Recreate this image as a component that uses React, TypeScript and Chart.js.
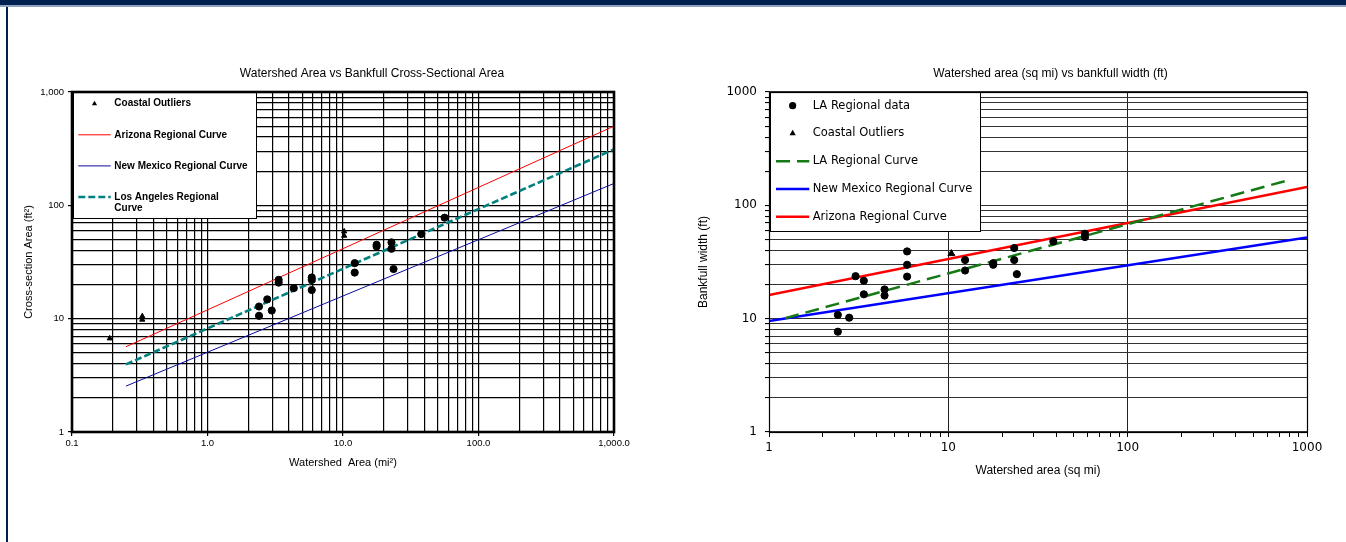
import React, { useEffect, useRef } from "react";
import { Chart, registerables } from "chart.js";
Chart.register(...registerables);

// ---------- Left chart: Watershed Area vs Bankfull Cross-Sectional Area ----------
const leftLAx = [2.4, 2.4, 2.76, 2.98, 3.35, 3.35, 4.33, 5.88, 5.88, 5.88, 12.2, 12.2, 17.7, 17.7, 22.8, 22.8, 23.6, 37.8, 56.2];
const leftLAy = [12.8, 10.6, 14.8, 11.8, 22.0, 20.8, 18.6, 23.1, 22.0, 17.9, 30.9, 25.5, 44.9, 43.4, 47.1, 41.4, 27.4, 55.8, 77.8];
const leftCoastalX = [0.19, 0.33, 0.33, 10.2, 10.2];
const leftCoastalY = [6.7, 10.5, 9.8, 58.9, 53.9];
const leftCurveX = [0.25, 1000];
const leftArizonaY = [5.65, 500];
const leftNewMexicoY = [2.54, 156];
const leftLACurveY = [3.95, 312];
const leftXTickLabels = ["0.1", "1.0", "10.0", "100.0", "1,000.0"];
const leftYTickLabels = ["1", "10", "100", "1,000"];
const leftLabels = ["LA data", "Coastal Outliers", "Arizona Regional Curve", "New Mexico Regional Curve", "Los Angeles Regional\nCurve"];

// ---------- Right chart: Watershed area vs bankfull width ----------
const rightLAx = [2.42, 2.42, 2.8, 3.04, 3.38, 3.38, 4.41, 4.41, 5.89, 5.89, 5.89, 12.4, 12.4, 17.8, 17.8, 23.3, 23.3, 24.1, 38.5, 57.8, 57.8];
const rightLAy = [10.8, 7.67, 10.2, 23.7, 21.6, 16.4, 18.1, 16.0, 39.2, 29.9, 23.5, 32.9, 26.6, 30.9, 29.9, 42.0, 32.9, 24.7, 48.0, 56.2, 52.5];
const rightCoastalX = [10.4];
const rightCoastalY = [37.5];
const rightLACurveX = [1.23, 812];
const rightLACurveY = [10.1, 169];
const rightCurveX = [1, 1000];
const rightNewMexicoY = [9.55, 52.1];
const rightArizonaY = [16.2, 145.5];
const rightXTickLabels = ["1", "10", "100", "1000"];
const rightYTickLabels = ["1", "10", "100", "1000"];
const rightLabels = ["LA Regional data", "Coastal Outliers", "LA Regional Curve", "New Mexico Regional Curve", "Arizona Regional Curve"];

const SANS = "'Liberation Sans', Arial, sans-serif";
const VERD = "'DejaVu Sans', Verdana, sans-serif";

function pts(xs: number[], ys: number[]) {
  return xs.map((x, i) => ({ x, y: ys[i] }));
}

function makeLogTicks(min: number, max: number) {
  const ticks: { value: number; major: boolean }[] = [];
  const d0 = Math.round(Math.log10(min));
  const d1 = Math.round(Math.log10(max));
  for (let d = d0; d <= d1; d++) {
    for (let m = 1; m <= 9; m++) {
      const v = parseFloat((m * Math.pow(10, d)).toPrecision(10));
      if (v > max * 1.000001) break;
      ticks.push({ value: v, major: m === 1 });
    }
  }
  return ticks;
}

function labelFor(labels: string[], min: number) {
  return (value: any, index: number, ticks: any[]) => {
    const t = ticks[index];
    if (!t || !t.major) return "";
    const k = Math.round(Math.log10(Number(value)) - Math.log10(min));
    return labels[k] ?? "";
  };
}

function drawMarker(ctx: CanvasRenderingContext2D, style: string, x: number, y: number, r: number) {
  ctx.beginPath();
  if (style === "triangle") {
    let rad = 0;
    const step = (2 * Math.PI) / 3;
    ctx.moveTo(x + Math.sin(rad) * r, y - Math.cos(rad) * r);
    rad += step;
    ctx.lineTo(x + Math.sin(rad) * r, y - Math.cos(rad) * r);
    rad += step;
    ctx.lineTo(x + Math.sin(rad) * r, y - Math.cos(rad) * r);
    ctx.closePath();
  } else {
    ctx.arc(x, y, r, 0, Math.PI * 2);
  }
  ctx.fill();
}

const overlayPlugin = {
  id: "overlay",
  afterDraw(chart: any, _args: any, opts: any) {
    const ctx: CanvasRenderingContext2D = chart.ctx;
    const ca = chart.chartArea;
    ctx.save();
    // legend box
    const L = opts.legend;
    ctx.fillStyle = "#fff";
    ctx.fillRect(L.x, L.y, L.w, L.h);
    ctx.strokeStyle = "#000";
    ctx.lineWidth = 1;
    ctx.strokeRect(L.x + 0.5, L.y + 0.5, L.w, L.h);
    ctx.font = L.font;
    ctx.textAlign = "left";
    ctx.textBaseline = "middle";
    const items: number[] = L.items;
    items.forEach((di, k) => {
      const ds = chart.data.datasets[di];
      const y = L.rowY0 + k * L.rowGap;
      if (ds.showLine) {
        ctx.save();
        ctx.strokeStyle = ds.borderColor;
        ctx.lineWidth = ds.borderWidth;
        ctx.setLineDash(ds.borderDash || []);
        ctx.beginPath();
        ctx.moveTo(L.lineX0, y);
        ctx.lineTo(L.lineX1, y);
        ctx.stroke();
        ctx.restore();
      } else {
        ctx.fillStyle = "#000";
        drawMarker(ctx, ds.pointStyle, (L.lineX0 + L.lineX1) / 2, y, L.markerR);
      }
      ctx.fillStyle = "#000";
      String(ds.label)
        .split("\n")
        .forEach((line: string, j: number) => {
          ctx.fillText(line, L.textX, y + j * L.lineH);
        });
    });
    // plot frame
    ctx.strokeStyle = "#000";
    ctx.lineWidth = opts.frameWidth;
    ctx.setLineDash([]);
    ctx.strokeRect(ca.left + opts.frameOff, ca.top + opts.frameOff, ca.right - ca.left, ca.bottom - ca.top);
    // title
    ctx.fillStyle = "#000";
    ctx.font = opts.titleFont;
    ctx.textAlign = "center";
    ctx.textBaseline = "middle";
    ctx.fillText(opts.title, opts.titleX, opts.titleY);
    ctx.restore();
  },
};

function leftConfig(): any {
  return {
    type: "scatter",
    data: {
      datasets: [
        { label: leftLabels[0], data: pts(leftLAx, leftLAy), pointStyle: "circle", pointRadius: 3.6, backgroundColor: "#000", borderColor: "#000", borderWidth: 1, showLine: false },
        { label: leftLabels[1], data: pts(leftCoastalX, leftCoastalY), pointStyle: "triangle", pointRadius: 3, backgroundColor: "#000", borderColor: "#000", borderWidth: 1, showLine: false },
        { label: leftLabels[2], data: pts(leftCurveX, leftArizonaY), showLine: true, borderColor: "#FF0000", borderWidth: 1, pointRadius: 0 },
        { label: leftLabels[3], data: pts(leftCurveX, leftNewMexicoY), showLine: true, borderColor: "#0A0A9E", borderWidth: 1, pointRadius: 0 },
        { label: leftLabels[4], data: pts(leftCurveX, leftLACurveY), showLine: true, borderColor: "#008080", borderWidth: 2.6, borderDash: [7, 3], pointRadius: 0 },
      ],
    },
    options: {
      animation: false,
      responsive: false,
      devicePixelRatio: 1,
      events: [],
      layout: { padding: { left: 0, right: 66, top: 92, bottom: 70 } },
      scales: {
        x: {
          type: "logarithmic",
          min: 0.1,
          max: 1000,
          afterBuildTicks: (s: any) => { s.ticks = makeLogTicks(0.1, 1000); },
          afterFit: (s: any) => { s.height = 40; },
          grid: { color: "#000", lineWidth: 1.2, tickLength: 4, tickColor: (c: any) => (c.tick && c.tick.major ? "#000" : "rgba(0,0,0,0)") },
          border: { display: false },
          ticks: { autoSkip: false, maxRotation: 0, minRotation: 0, padding: 2, color: "#000", font: { family: SANS, size: 9.5 }, callback: labelFor(leftXTickLabels, 0.1) },
          title: { display: true, text: "Watershed  Area (mi²)", color: "#000", font: { family: SANS, size: 11 }, padding: { top: 0, bottom: 2 } },
        },
        y: {
          type: "logarithmic",
          min: 1,
          max: 1000,
          afterBuildTicks: (s: any) => { s.ticks = makeLogTicks(1, 1000); },
          afterFit: (s: any) => { s.width = 72; },
          grid: { color: "#000", lineWidth: 1.2, tickLength: 4, tickColor: (c: any) => (c.tick && c.tick.major ? "#000" : "rgba(0,0,0,0)") },
          border: { display: false },
          ticks: { autoSkip: false, padding: 4, color: "#000", font: { family: SANS, size: 9.5 }, callback: labelFor(leftYTickLabels, 1) },
          title: { display: true, text: "Cross-section Area (ft²)", color: "#000", font: { family: SANS, size: 11 }, padding: { top: 22, bottom: 0 } },
        },
      },
      plugins: {
        legend: { display: false },
        tooltip: { enabled: false },
        title: { display: false },
        overlay: {
          title: "Watershed Area vs Bankfull Cross-Sectional Area",
          titleX: 372,
          titleY: 73.5,
          titleFont: `12px ${SANS}`,
          frameWidth: 2.6,
          frameOff: 0,
          legend: {
            x: 73, y: 92, w: 183, h: 126,
            items: [1, 2, 3, 4],
            rowY0: 103.7, rowGap: 31.1, lineH: 11.7,
            lineX0: 78.3, lineX1: 110.7, textX: 114.3, markerR: 3,
            font: `bold 10px ${SANS}`,
          },
        },
      },
    },
    plugins: [overlayPlugin],
  };
}

function rightConfig(): any {
  return {
    type: "scatter",
    data: {
      datasets: [
        { label: rightLabels[0], data: pts(rightLAx, rightLAy), pointStyle: "circle", pointRadius: 3.6, backgroundColor: "#000", borderColor: "#000", borderWidth: 1, showLine: false },
        { label: rightLabels[1], data: pts(rightCoastalX, rightCoastalY), pointStyle: "triangle", pointRadius: 4, backgroundColor: "#000", borderColor: "#000", borderWidth: 1, showLine: false },
        { label: rightLabels[2], data: pts(rightLACurveX, rightLACurveY), showLine: true, borderColor: "#157A15", borderWidth: 2.5, borderDash: [14, 7], pointRadius: 0 },
        { label: rightLabels[3], data: pts(rightCurveX, rightNewMexicoY), showLine: true, borderColor: "#0000FF", borderWidth: 2.5, pointRadius: 0 },
        { label: rightLabels[4], data: pts(rightCurveX, rightArizonaY), showLine: true, borderColor: "#FF0000", borderWidth: 2.5, pointRadius: 0 },
      ],
    },
    options: {
      animation: false,
      responsive: false,
      devicePixelRatio: 1,
      events: [],
      layout: { padding: { left: 0, right: 39, top: 92, bottom: 64 } },
      scales: {
        x: {
          type: "logarithmic",
          min: 1,
          max: 1000,
          afterBuildTicks: (s: any) => { s.ticks = makeLogTicks(1, 1000); },
          afterFit: (s: any) => { s.height = 46; },
          grid: { color: (c: any) => (c.tick && c.tick.major ? "#222" : "rgba(0,0,0,0)"), lineWidth: 1, tickLength: 5, tickColor: "#000" },
          border: { display: false },
          ticks: { autoSkip: false, maxRotation: 0, minRotation: 0, padding: 4, color: "#000", font: { family: VERD, size: 12 }, callback: labelFor(rightXTickLabels, 1) },
          title: { display: true, text: "Watershed area (sq mi)", color: "#000", font: { family: SANS, size: 12 }, padding: { top: 0, bottom: 0.5 } },
        },
        y: {
          type: "logarithmic",
          min: 1,
          max: 1000,
          afterBuildTicks: (s: any) => { s.ticks = makeLogTicks(1, 1000); },
          afterFit: (s: any) => { s.width = 89; },
          grid: { color: "#333", lineWidth: 1.1, tickLength: 4, tickColor: "#000" },
          border: { display: false },
          ticks: { autoSkip: false, padding: 8, color: "#000", font: { family: VERD, size: 12 }, callback: labelFor(rightYTickLabels, 1) },
          title: { display: true, text: "Bankfull width (ft)", color: "#000", font: { family: SANS, size: 12 }, padding: { top: 16.8, bottom: 0 } },
        },
      },
      plugins: {
        legend: { display: false },
        tooltip: { enabled: false },
        title: { display: false },
        overlay: {
          title: "Watershed area (sq mi) vs bankfull width (ft)",
          titleX: 370.5,
          titleY: 73.5,
          titleFont: `12px ${SANS}`,
          frameWidth: 1.2,
          frameOff: 0.5,
          legend: {
            x: 90, y: 92, w: 210, h: 139,
            items: [0, 1, 2, 3, 4],
            rowY0: 105.7, rowGap: 27.75, lineH: 13,
            lineX0: 96, lineX1: 129.3, textX: 132.7, markerR: 3.6,
            font: `11.5px ${VERD}`,
          },
        },
      },
    },
    plugins: [overlayPlugin],
  };
}

export default function App() {
  const leftRef = useRef<HTMLCanvasElement>(null);
  const rightRef = useRef<HTMLCanvasElement>(null);
  useEffect(() => {
    document.body.style.margin = "0";
    const c1 = new Chart(leftRef.current as HTMLCanvasElement, leftConfig());
    const c2 = new Chart(rightRef.current as HTMLCanvasElement, rightConfig());
    return () => {
      c1.destroy();
      c2.destroy();
    };
  }, []);
  return (
    <div style={{ position: "fixed", left: 0, top: 0, width: 1346, height: 542, background: "#fff", overflow: "hidden" }}>
      <div style={{ position: "absolute", left: 0, top: 0, width: 1346, height: 5, background: "#00204F" }} />
      <div style={{ position: "absolute", left: 0, top: 5, width: 1346, height: 2, background: "#8FA2BF" }} />
      <div style={{ position: "absolute", left: 6, top: 7, width: 2, height: 535, background: "#00204F" }} />
      <div style={{ position: "absolute", left: 0, top: 0, width: 680, height: 542 }}>
        <canvas ref={leftRef} width={680} height={542} style={{ display: "block", width: 680, height: 542 }} />
      </div>
      <div style={{ position: "absolute", left: 680, top: 0, width: 666, height: 542 }}>
        <canvas ref={rightRef} width={666} height={542} style={{ display: "block", width: 666, height: 542 }} />
      </div>
    </div>
  );
}
